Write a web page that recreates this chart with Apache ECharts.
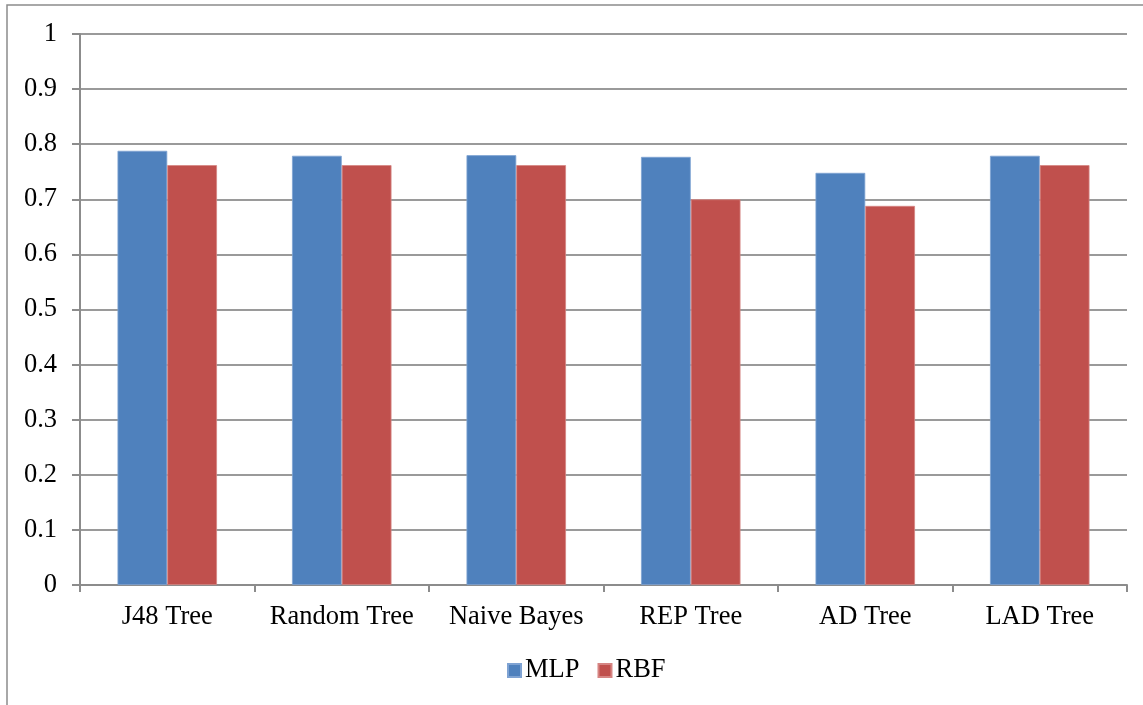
<!DOCTYPE html>
<html>
<head>
<meta charset="utf-8">
<script src="https://cdn.jsdelivr.net/npm/echarts@6/dist/echarts.min.js"></script>
<style>
html,body{margin:0;padding:0;background:#fff;}
#chart{width:1143px;height:705px;}
</style>
</head>
<body>
<div id="chart"></div>
<script>
const categories = ['J48 Tree', 'Random Tree', 'Naive Bayes', 'REP Tree', 'AD Tree', 'LAD Tree'];
const mlpValues = [0.788, 0.779, 0.780, 0.777, 0.748, 0.779];
const rbfValues = [0.762, 0.762, 0.762, 0.700, 0.688, 0.762];
const seriesNames = ['MLP', 'RBF'];
const yTicks = [0, 0.1, 0.2, 0.3, 0.4, 0.5, 0.6, 0.7, 0.8, 0.9, 1];

const font = '"Liberation Serif", "Times New Roman", serif';
const fs = 26.5;
const chart = echarts.init(document.getElementById('chart'), null, {renderer: 'canvas'});
chart.setOption({
  backgroundColor: '#fff',
  animation: false,
  graphic: [{
    type: 'rect', z: 0,
    shape: {x: 7, y: 5, width: 1145, height: 710},
    style: {fill: 'none', stroke: '#8c8c8c', lineWidth: 1.5}
  }],
  grid: {left: 80, right: 16, top: 34, bottom: 120, containLabel: false},
  legend: {
    top: 652, left: 502,
    itemWidth: 13, itemHeight: 13, itemGap: 18,
    icon: 'rect',
    textStyle: {fontFamily: font, fontSize: fs, color: '#000', padding: [0, 0, 0, -1]},
    data: seriesNames
  },
  xAxis: {
    type: 'category',
    data: categories,
    axisLine: {lineStyle: {color: '#8c8c8c', width: 2}},
    axisTick: {show: true, interval: 0, length: 7, lineStyle: {color: '#8c8c8c', width: 2}},
    axisLabel: {fontFamily: font, fontSize: fs, color: '#000', margin: 19, interval: 0}
  },
  yAxis: {
    type: 'value',
    min: 0, max: 1, interval: 0.1,
    axisLine: {show: true, lineStyle: {color: '#8c8c8c', width: 2}},
    axisTick: {show: true, length: 8, lineStyle: {color: '#8c8c8c', width: 2}},
    axisLabel: {
      fontFamily: font, fontSize: fs, color: '#000', margin: 23,
      formatter: function (v) { const t = yTicks.find(x => Math.abs(x - v) < 1e-9); return String(t); }
    },
    splitLine: {show: true, lineStyle: {color: '#9a9a9a', width: 2}}
  },
  series: [
    {
      name: seriesNames[0], type: 'bar', data: mlpValues,
      barGap: '0%', barCategoryGap: '43%',
      itemStyle: {color: '#4F81BD', borderColor: '#7fa3d3', borderWidth: 0.8}
    },
    {
      name: seriesNames[1], type: 'bar', data: rbfValues,
      barGap: '0%', barCategoryGap: '43%',
      itemStyle: {color: '#C0504D', borderColor: '#d68583', borderWidth: 0.8}
    }
  ]
});
</script>
</body>
</html>
